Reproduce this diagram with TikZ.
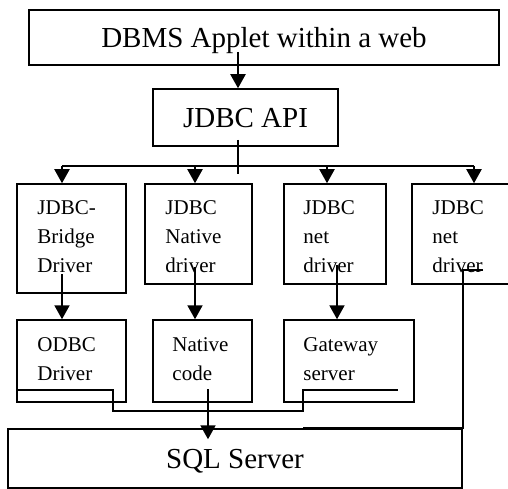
\documentclass[tikz,border=0pt]{standalone}
\usepackage{fontspec}
\setmainfont{Liberation Serif}
\usetikzlibrary{arrows.meta}
\begin{document}
\begin{tikzpicture}[x=1pt,y=-1pt,
  bigbox/.style={draw,line width=1.5pt,inner sep=0pt,text depth=0pt,font=\fontsize{29}{33}\selectfont},
  sbox/.style={draw,line width=1.5pt,inner sep=0pt},
  stext/.style={inner sep=0pt,align=left,anchor=base west,font=\fontsize{21}{29}\selectfont},
  arr/.style={line width=2pt,-{Triangle[width=15pt,length=14pt]}},
  link/.style={line width=1.6pt}]
\clip (0,0) rectangle (508,489);
\useasboundingbox (0,0) rectangle (508,489);
% boxes
\node[bigbox,minimum width=470pt,minimum height=55pt] (top) at (264,37.5) {DBMS Applet within a web};
\node[bigbox,minimum width=185pt,minimum height=57pt] (api) at (245.5,117.5) {JDBC API};
\node[sbox,minimum width=109pt,minimum height=109pt] (b1) at (71.5,238.5) {};
\node[sbox,minimum width=107pt,minimum height=100pt] (b2) at (198.5,234) {};
\node[sbox,minimum width=102pt,minimum height=100pt] (b3) at (335,234) {};
\node[sbox,minimum width=108pt,minimum height=100pt] (b4) at (466,234) {};
\node[sbox,minimum width=109pt,minimum height=82pt] (c1) at (71.5,361) {};
\node[sbox,minimum width=99pt,minimum height=82pt] (c2) at (202.5,361) {};
\node[sbox,minimum width=130pt,minimum height=82pt] (c3) at (349,361) {};
\node[bigbox,minimum width=454pt,minimum height=59pt] (sql) at (235,458.5) {SQL Server};
% box texts (anchor = baseline of last line)
\node[stext] (b1t) at ([xshift=21pt,yshift=-89pt]b1.north west) {JDBC-\\Bridge\\Driver};
\node[stext] (b2t) at ([xshift=21pt,yshift=-89pt]b2.north west) {JDBC\\Native\\driver};
\node[stext] (b3t) at ([xshift=20pt,yshift=-89pt]b3.north west) {JDBC\\net\\driver};
\node[stext] (b4t) at ([xshift=21pt,yshift=-89pt]b4.north west) {JDBC\\net\\driver};
\node[stext] (c1t) at ([xshift=21pt,yshift=-61pt]c1.north west) {ODBC\\Driver};
\node[stext] (c2t) at ([xshift=20pt,yshift=-61pt]c2.north west) {Native\\code};
\node[stext] (c3t) at ([xshift=20pt,yshift=-61pt]c3.north west) {Gateway\\server};
% coordinates
\coordinate (t1) at (238,52);
\coordinate (a1) at (238,140);
\coordinate (a2) at (238,174);
\coordinate (bus1) at (62,166);
\coordinate (bus2) at (195,166);
\coordinate (bus3) at (327,166);
\coordinate (bus4) at (474,166);
\coordinate (d1) at (62,274);
\coordinate (d2) at (195,267);
\coordinate (d3) at (337,265);
\coordinate (e1) at (483,270);
\coordinate (e2) at (463,270);
\coordinate (f0) at (17,390);
\coordinate (f1) at (113,390);
\coordinate (f2) at (113,411);
\coordinate (f3) at (303,411);
\coordinate (f4) at (303,390);
\coordinate (f5) at (398,390);
\coordinate (g1) at (208,389);
% connectors
\draw[arr] (t1) -- (t1 |- api.north);
\draw[link,line width=1.5pt] (a1) -- (a2);
\draw[link,line width=1.5pt] (bus1) -- (bus4);
\draw[arr] (bus1) -- (bus1 |- b1.north);
\draw[arr] (bus2) -- (bus2 |- b2.north);
\draw[arr] (bus3) -- (bus3 |- b3.north);
\draw[arr] (bus4) -- (bus4 |- b4.north);
\draw[arr] (d1) -- (d1 |- c1.north);
\draw[arr] (d2) -- (d2 |- c2.north);
\draw[arr] (d3) -- (d3 |- c3.north);
\draw[link] (e1) -- (e2) -- (e2 |- sql.north) -- (f4 |- sql.north);
\draw[link] (f0) -- (f1) -- (f2) -- (f3) -- (f4) -- (f5);
\draw[arr] (g1) -- ([yshift=-11pt]g1 |- sql.north);
\end{tikzpicture}
\end{document}
